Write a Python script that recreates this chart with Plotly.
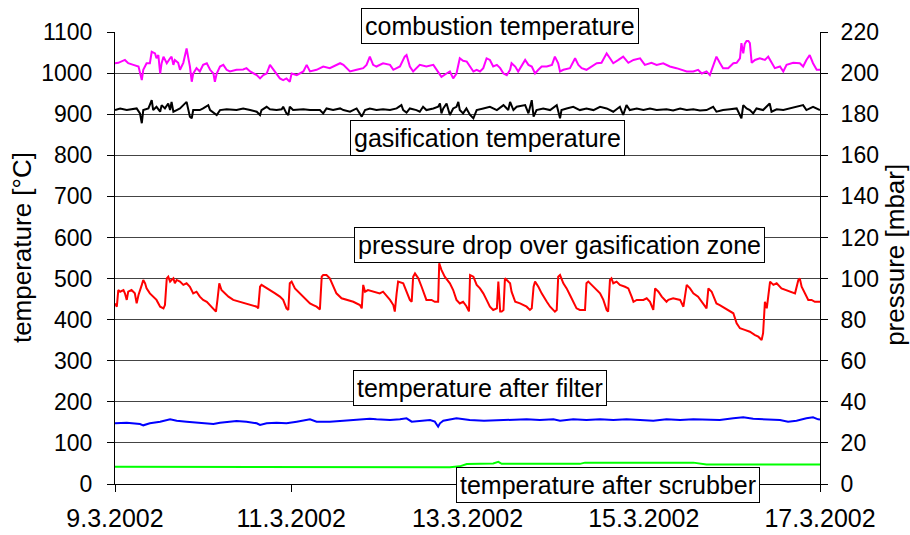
import pandas as pd
import plotly.graph_objects as go

START = "2002-03-09"

# ---- combustion temperature [°C] (hours since 9.3.2002 00:00) ----
comb_h = [0, 0.9, 2.7, 3.6, 5.0, 6.4, 7.3, 7.7, 8.6, 9.5, 10.0, 10.9, 11.3, 11.8, 12.3, 12.7, 13.2, 14.1, 15.0, 15.4,
          15.9, 16.3, 17.2, 17.7, 18.6, 19.5, 19.9, 20.4, 20.9, 21.3, 22.2, 23.1, 24.0, 25.0, 25.9, 26.8, 27.2, 27.7,
          28.6, 29.5, 30.4, 31.3, 33.1, 34.9, 35.8, 36.8, 38.6, 39.5, 40.4, 41.3, 42.2, 43.1, 44.0, 44.9, 45.8, 46.7,
          47.6, 48.1, 49.5, 51.3, 52.2, 53.1, 54.9, 56.7, 58.5, 60.3, 61.3, 62.2, 64.0, 65.8, 67.6, 68.5, 69.4, 70.3,
          71.2, 73.0, 74.9, 75.8, 77.6, 78.9, 79.4, 80.3, 81.2, 83.0, 84.8, 86.7, 88.0, 88.9, 90.3, 91.2, 92.1, 93.0,
          93.9, 94.8, 95.8, 96.7, 97.6, 98.5, 99.4, 100.3, 101.2, 102.1, 103.0, 104.0, 104.9, 105.8, 106.7, 107.6,
          108.0, 109.0, 109.8, 111.7, 112.6, 113.5, 114.4, 115.3, 116.2, 117.6, 119.0, 119.8, 120.7, 121.2, 122.1,
          123.9, 125.3, 126.2, 127.1, 128.4, 129.8, 131.2, 132.5, 133.9, 134.8, 135.7, 137.1, 138.4, 139.8, 141.2,
          143.0, 144.3, 146.1, 147.5, 149.3, 151.1, 152.9, 154.3, 155.7, 157.5, 158.8, 159.8, 161.1, 162.0, 162.9,
          163.8, 164.7, 165.6, 167.0, 168.4, 169.3, 170.2, 170.6, 171.1, 171.5, 172.0, 172.5, 172.9, 173.4, 174.3,
          175.6, 177.0, 177.9, 178.8, 179.7, 181.1, 182.0, 182.9, 184.7, 186.5, 187.4, 188.3, 189.2, 190.1, 191.1,
          192.0]
comb_v = [1024, 1025, 1032, 1024, 1020, 1016, 983, 1008, 1024, 1024, 1052, 1048, 1036, 1044, 999, 1024, 1040, 1024, 1036, 1040,
          1020, 1032, 1025, 1008, 1025, 1060, 1040, 1016, 979, 999, 1012, 1004, 1020, 1024, 1008, 999, 979, 999,
          1016, 1020, 1008, 1004, 1008, 1009, 1012, 1004, 995, 987, 995, 999, 1020, 1008, 999, 987, 983, 987,
          979, 999, 995, 1004, 1020, 1004, 1008, 1016, 1012, 1020, 1024, 1020, 1004, 1008, 1012, 1020, 1040, 1020,
          1016, 1024, 1020, 1008, 1016, 1040, 1044, 1016, 1004, 1020, 1016, 1020, 1004, 991, 999, 1004, 987, 999,
          1036, 1030, 1028, 1016, 1004, 1008, 1004, 1012, 1036, 1032, 1016, 1020, 1012, 999, 995, 1008,
          1024, 1016, 1004, 1032, 1020, 1016, 999, 1008, 1016, 1016, 1020, 1040, 1024, 1004, 1008,
          1012, 1036, 1020, 1012, 1008, 1016, 1024, 1025, 1048, 1036, 1024, 1032, 1040, 1025, 1032,
          1036, 1020, 1025, 1020, 1024, 1016, 1012, 1008, 1004, 1004, 1008, 999, 1004, 995, 1020,
          1040, 1025, 1012, 1012, 1024, 1025, 1036, 1073, 1048, 1071, 1078, 1078, 1073, 1025, 1032,
          1036, 1032, 1040, 1024, 1012, 1016, 1004, 1020, 1025, 1024, 1016, 1032, 1044, 1024, 1008,
          1008]

# ---- gasification temperature [°C] ----
gas_h = [0, 1.4, 3.2, 5.9, 6.8, 7.3, 7.7, 9.1, 10.0, 10.4, 11.3, 12.3, 12.7, 13.6, 14.5, 15.0, 15.4, 15.9, 16.8, 17.7,
         18.6, 19.5, 20.4, 20.9, 21.3, 23.1, 24.0, 25.4, 25.9, 27.7, 28.6, 30.4, 33.1, 34.9, 36.8, 38.6, 39.5, 39.9,
         41.3, 42.2, 44.0, 45.4, 45.8, 46.7, 47.2, 47.6, 48.5, 51.3, 53.1, 55.8, 56.7, 57.6, 59.4, 61.3, 62.2, 64.0,
         65.8, 67.2, 68.1, 69.4, 71.2, 73.0, 74.9, 76.7, 78.0, 78.5, 79.4, 80.3, 82.1, 83.0, 83.9, 84.8, 86.7, 88.0,
         88.5, 88.9, 89.4, 90.3, 91.2, 92.1, 93.0, 93.5, 93.9, 94.8, 95.7, 96.7, 97.6, 98.5, 100.3, 102.1, 104.0,
         105.8, 107.1, 107.6, 108.5, 109.4, 111.7, 112.6, 113.5, 114.0, 114.8, 116.6, 118.5, 120.3, 121.2, 121.6,
         123.0, 124.8, 126.6, 128.4, 130.3, 132.1, 133.9, 135.7, 137.5, 138.4, 139.3, 140.2, 142.1, 143.9, 145.7,
         147.5, 150.2, 152.0, 153.9, 155.7, 157.5, 159.3, 161.1, 162.9, 163.8, 165.6, 167.5, 169.3, 170.6, 171.1,
         172.0, 172.9, 173.8, 174.7, 176.5, 178.3, 178.8, 180.2, 182.0, 183.8, 185.6, 187.4, 188.3, 190.1, 192.0]
gas_v = [910, 914, 910, 914, 902, 878, 910, 914, 934, 910, 918, 906, 922, 914, 926, 910, 930, 906, 910, 914,
         922, 930, 894, 890, 910, 910, 914, 922, 910, 898, 910, 912, 910, 914, 910, 906, 898, 910,
         918, 912, 910, 912, 918, 902, 898, 918, 910, 912, 910, 910, 902, 914, 910, 914, 910, 906,
         914, 894, 910, 914, 910, 912, 910, 914, 922, 910, 904, 914, 910, 906, 918, 910, 914, 918,
         926, 902, 914, 926, 898, 914, 918, 930, 910, 902, 914, 898, 890, 910, 914, 918, 910,
         922, 910, 930, 910, 918, 922, 902, 934, 894, 910, 914, 910, 922, 890, 910,
         914, 918, 910, 914, 910, 918, 914, 906, 918, 898, 922, 910, 914, 910, 914,
         910, 912, 909, 914, 910, 912, 909, 910, 918, 906, 910, 912, 914, 890, 922,
         914, 910, 902, 914, 910, 926, 906, 912, 910, 914, 918, 922, 910, 918, 910]

# ---- pressure drop over gasification zone [mbar] ----
dp_h = [0, 0.5, 0.9, 1.4, 2.3, 2.7, 3.2, 3.6, 4.5, 5.4, 5.9, 6.4, 7.3, 7.7, 8.2, 8.6, 9.5, 10.4, 11.3, 12.3,
        13.2, 13.6, 14.1, 14.5, 15.0, 15.4, 15.9, 16.3, 16.8, 17.7, 18.6, 19.5, 20.4, 21.3, 22.2, 23.1, 24.0, 25.0,
        25.9, 26.8, 27.5, 27.9, 28.4, 29.0, 29.9, 30.9, 32.2, 34.0, 34.9, 36.8, 38.6, 39.0, 39.5, 39.9, 40.8, 42.2,
        43.6, 44.9, 45.8, 46.7, 47.2, 47.6, 48.1, 49.0, 50.4, 52.2, 53.1, 54.0, 54.9, 55.8, 56.3, 56.7, 57.6, 58.5,
        59.4, 60.3, 61.7, 63.1, 64.9, 66.7, 67.2, 67.6, 68.1, 68.9, 70.3, 72.1, 73.0, 74.9, 75.8, 76.2, 76.7, 77.1,
        78.5, 79.4, 80.3, 80.8, 81.2, 81.7, 82.6, 83.5, 84.8, 86.2, 87.1, 88.0, 88.3, 88.9, 89.8, 91.2, 92.1, 93.0,
        93.9, 94.8, 95.7, 96.4, 96.7, 97.6, 98.5, 99.4, 100.3, 101.2, 102.1, 103.0, 104.0, 104.4, 104.9, 105.3,
        105.8, 106.2, 106.7, 107.6, 108.0, 109.0, 110.3, 112.1, 113.0, 113.5, 114.0, 114.4, 115.3, 116.2, 117.6,
        118.5, 119.8, 120.3, 120.7, 121.2, 122.1, 123.0, 123.9, 124.8, 125.7, 126.6, 128.0, 128.4, 128.9, 129.8,
        131.2, 132.1, 133.0, 133.9, 134.3, 134.8, 135.2, 135.7, 136.6, 137.5, 138.9, 139.8, 140.7, 141.2, 142.1,
        143.9, 144.8, 145.7, 146.6, 147.1, 148.0, 148.9, 150.2, 150.7, 152.0, 153.9, 154.8, 155.7, 156.6, 157.5,
        158.8, 160.2, 161.1, 161.6, 162.5, 163.4, 163.8, 164.7, 166.1, 167.5, 168.4, 169.3, 170.2, 171.5, 172.9,
        174.3, 175.2, 176.1, 176.5, 177.0, 177.5, 177.9, 178.4, 179.3, 180.2, 181.5, 182.9, 183.8, 185.2, 186.1,
        186.5, 187.0, 187.9, 188.8, 189.7, 190.6, 191.5, 192.0]
dp_v = [87.9, 86.3, 94.4, 93.6, 94.4, 92.8, 89.6, 93.6, 94.4, 92.8, 87.9, 92.0, 96.9, 99.3, 97.7, 95.2, 92.8, 91.2, 89.6, 86.3,
        85.5, 87.1, 100.1, 100.9, 98.5, 99.3, 100.1, 97.7, 99.3, 98.5, 96.9, 97.7, 96.0, 92.8, 93.6, 91.2, 89.6, 88.7,
        87.1, 85.5, 83.9, 89.6, 97.7, 94.4, 92.8, 91.2, 89.6, 88.7, 87.9, 87.1, 86.3, 85.5, 96.0, 96.9, 96.0, 94.4,
        92.8, 91.2, 89.6, 85.5, 84.7, 97.7, 98.5, 95.2, 92.8, 89.6, 87.9, 87.1, 86.3, 85.0, 100.9, 101.7, 101.7, 100.1,
        96.0, 92.8, 90.4, 89.6, 88.7, 87.1, 85.5, 96.9, 93.6, 94.4, 93.6, 92.8, 93.6, 89.6, 87.1, 83.9, 92.8, 98.5,
        97.7, 93.6, 89.6, 88.7, 100.9, 102.5, 100.1, 96.0, 89.6, 89.6, 88.7, 88.7, 107.4, 104.2, 100.9, 97.7, 94.4, 89.6,
        87.9, 88.7, 86.5, 84.0, 101.7, 100.9, 96.9, 95.2, 92.8, 89.6, 86.3, 84.7, 85.5, 98.5, 83.9, 83.9,
        84.7, 100.1, 99.3, 97.7, 93.6, 88.7, 87.9, 86.3, 84.7, 85.5, 96.0, 98.5, 96.0, 92.8, 88.7,
        86.3, 83.9, 84.7, 100.9, 101.7, 97.7, 95.2, 92.0, 88.7, 85.5, 84.7, 84.7, 97.7, 98.5, 96.9,
        94.4, 92.8, 89.6, 84.7, 83.9, 99.3, 100.1, 97.7, 98.5, 96.9, 96.0, 95.2, 91.2, 88.7, 89.6,
        89.6, 90.4, 88.7, 84.7, 95.2, 93.6, 91.2, 88.7, 89.6, 90.4, 89.6, 86.3, 96.9, 95.2, 92.8,
        91.2, 87.9, 85.5, 95.2, 93.6, 89.6, 87.9, 87.1, 85.5, 83.9, 83.1, 78.2, 75.8, 75.0, 74.1,
        72.5, 71.7, 70.1, 73.4, 88.7, 85.5, 91.2, 98.5, 96.9, 97.7, 95.2, 94.4, 93.6, 92.8, 99.3,
        100.1, 96.0, 92.8, 89.6, 89.6, 88.7, 88.7, 88.7]

# ---- temperature after filter [°C] ----
filt_h = [0, 3.2, 6.8, 7.7, 9.5, 12.3, 15.0, 16.8, 19.5, 22.2, 25.0, 26.8, 28.6, 31.3, 33.1, 35.8, 38.6, 39.5, 41.3,
          44.0, 46.7, 49.5, 53.1, 54.9, 58.5, 62.2, 65.8, 69.4, 71.2, 74.9, 77.6, 79.4, 80.8, 83.0, 85.8, 87.1, 88.0,
          88.5, 89.4, 93.0, 96.6, 100.5, 104.9, 108.5, 112.1, 115.7, 119.4, 121.2, 124.8, 128.4, 132.1, 135.7, 139.3,
          143.0, 146.6, 150.2, 153.9, 157.5, 161.1, 164.7, 168.4, 171.1, 173.8, 177.4, 181.1, 183.3, 185.6, 188.3,
          190.1, 191.5, 192.0]
filt_v = [147.7, 149.3, 146.0, 142.8, 147.7, 151.7, 157.4, 154.1, 151.7, 149.3, 147.7, 146.0, 149.3, 151.7, 153.3, 151.7, 147.7, 143.6, 147.7,
          149.3, 147.7, 151.7, 157.4, 151.7, 151.7, 154.1, 157.4, 159.0, 157.4, 155.8, 157.4, 159.8, 151.7, 154.1, 155.8, 151.7, 139.5,
          147.7, 154.1, 159.8, 155.8, 154.1, 155.8, 157.4, 157.4, 155.8, 157.4, 154.1, 157.4, 155.8, 157.4, 155.8, 157.4,
          155.8, 154.1, 157.4, 155.8, 157.4, 157.4, 155.8, 159.8, 162.2, 158.6, 157.4, 155.8, 151.7, 154.1, 159.8,
          162.2, 157.4, 157.0]

# ---- temperature after scrubber [°C] ----
scr_h = [0, 40, 88.5, 91.2, 93.9, 95.8, 103.0, 104.4, 105.3, 126.6, 128.0, 157.5, 161.1, 192.0]
scr_v = [42, 42, 42, 40.5, 43, 48.5, 50, 54, 49, 49, 52, 52, 47.5, 47.5]

tick_vals = ["2002-03-09", "2002-03-11", "2002-03-13", "2002-03-15", "2002-03-17"]
tick_text = ["9.3.2002", "11.3.2002", "13.3.2002", "15.3.2002", "17.3.2002"]


def to_time(hours):
    return pd.Timestamp(START) + pd.to_timedelta(hours, unit="h")


fig = go.Figure()
fig.add_trace(go.Scatter(x=to_time(comb_h), y=comb_v, mode="lines", name="combustion temperature",
                         line=dict(color="#FF00FF", width=2)))
fig.add_trace(go.Scatter(x=to_time(gas_h), y=gas_v, mode="lines", name="gasification temperature",
                         line=dict(color="#000000", width=2)))
fig.add_trace(go.Scatter(x=to_time(filt_h), y=filt_v, mode="lines", name="temperature after filter",
                         line=dict(color="#0000FF", width=2)))
fig.add_trace(go.Scatter(x=to_time(scr_h), y=scr_v, mode="lines", name="temperature after scrubber",
                         line=dict(color="#00FF00", width=2)))
fig.add_trace(go.Scatter(x=to_time(dp_h), y=dp_v, mode="lines", name="pressure drop over gasification zone",
                         line=dict(color="#FF0000", width=2), yaxis="y2"))

FONT = "Liberation Sans, Arial, sans-serif"
ann_style = dict(xref="paper", yref="paper", showarrow=False, bgcolor="white",
                 bordercolor="black", borderwidth=1, borderpad=3, xanchor="center", yanchor="middle",
                 font=dict(family=FONT, size=25, color="black"))
labels = [
    ("combustion temperature", 0.5457, 1.0137),
    ("gasification temperature", 0.5284, 0.7644),
    ("pressure drop over gasification zone", 0.6305, 0.5288),
    ("temperature after filter", 0.5177, 0.2113),
    ("temperature after scrubber", 0.6998, -0.0022),
]
for txt, ax_, ay_ in labels:
    fig.add_annotation(text=txt, x=ax_, y=ay_, **ann_style)

# axis titles (placed as rotated texts beside the axes)
title_style = dict(xref="paper", yref="paper", showarrow=False, textangle=-90,
                   xanchor="center", yanchor="middle",
                   font=dict(family=FONT, size=26, color="black"))
fig.add_annotation(text="temperature [°C]", x=-0.1319, y=0.522, **title_style)
fig.add_annotation(text="pressure [mbar]", x=1.1064, y=0.507, **title_style)

fig.update_layout(
    width=910, height=535,
    margin=dict(l=115, r=90, t=32, b=51, autoexpand=False),
    paper_bgcolor="white", plot_bgcolor="white",
    showlegend=False,
    font=dict(family=FONT, color="black"),
    xaxis=dict(type="date", range=[tick_vals[0], tick_vals[-1]], tickvals=tick_vals, ticktext=tick_text,
               ticks="outside", ticklen=7, tickcolor="black", showline=True, linecolor="black", linewidth=1,
               showgrid=False, zeroline=False, tickfont=dict(size=25), ticklabelstandoff=5,
               automargin=False),
    yaxis=dict(range=[0, 1100], dtick=100, ticks="outside", ticklen=7, tickcolor="black",
               showline=True, linecolor="black", linewidth=1, showgrid=True, gridcolor="#444444",
               gridwidth=1, zeroline=False, tickfont=dict(size=23), ticklabelstandoff=10,
               automargin=False),
    yaxis2=dict(range=[0, 220], dtick=20, overlaying="y", side="right", ticks="outside", ticklen=7,
                tickcolor="black", showline=True, linecolor="black", linewidth=1, showgrid=False,
                zeroline=False, tickfont=dict(size=23), ticklabelstandoff=8, automargin=False),
)

fig.write_html("out.html", config={"displayModeBar": False},
               post_script="document.body.style.margin='0';")
